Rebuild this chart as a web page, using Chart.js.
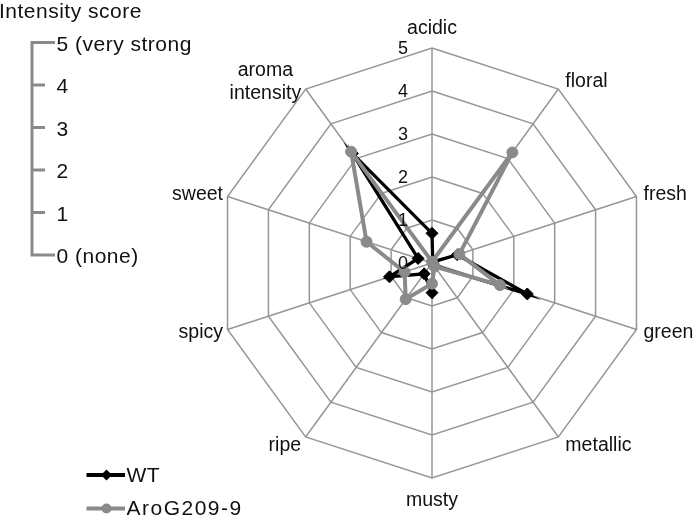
<!DOCTYPE html>
<html><head><meta charset="utf-8">
<script src="https://cdn.jsdelivr.net/npm/chart.js@4"></script>
<style>html,body{margin:0;padding:0;background:#fff;} canvas{display:block;}</style>
</head><body>
<canvas id="c" width="700" height="519"></canvas>
<script>
const categories = ['acidic','floral','fresh','green','metallic','musty','ripe','spicy','sweet',['aroma','intensity']];
const wtValues  = [0.69, 0.03, 0.62, 2.33, 0.08, 0.69, 0.31, 1.04, 0.34, 3.15];
const aroValues = [0.03, 3.18, 0.67, 1.66, 0.10, 0.48, 1.04, 0.67, 1.60, 3.20];
const seriesNames = ['WT', 'AroG209-9'];
const tickLabels = ['0','1','2','3','4','5'];
const scaleTitle = 'Intensity score';
const scaleLabels = ['5 (very strong','4','3','2','1','0 (none)'];

const FONT = '"Liberation Sans", Arial, sans-serif';
const TEXT = '#111111';
const GRID = '#969696';
const GRAY = '#8a8a8a';
const BLACK = '#000000';

const overlay = {
  id: 'overlay',
  afterDraw(chart) {
    const ctx = chart.ctx;
    const r = chart.scales.r;
    ctx.save();
    ctx.fillStyle = TEXT;
    // radial tick labels (left of the vertical axis)
    ctx.font = '18px ' + FONT;
    ctx.textAlign = 'center';
    ctx.textBaseline = 'middle';
    tickLabels.forEach(t => {
      const y = r.yCenter - r.getDistanceFromCenterForValue(parseFloat(t));
      ctx.fillText(t, r.xCenter - 29, y + 1);
    });
    // point labels
    ctx.font = '19.5px ' + FONT;
    ctx.textBaseline = 'alphabetic';
    const R = r.drawingArea;
    const lh = 23;
    categories.forEach((lab, i) => {
      const lines = Array.isArray(lab) ? lab : [lab];
      const p = r.getPointPosition(i, R);
      const a = r.getIndexAngle(i);
      const s = Math.sin(a), c = Math.cos(a);
      let x, align, base;
      if (Math.abs(s) < 0.01) {
        align = 'center'; x = p.x;
        base = c > 0 ? p.y - 14 - (lines.length - 1) * lh : p.y + 28;
      } else {
        base = p.y + 6 - 9.5 * c - (lines.length - 1) * lh / 2;
        if (s > 0) { align = 'left'; x = p.x + 7; } else { align = 'right'; x = p.x - 4.5; }
      }
      if (lines.length > 1) {
        const mw = Math.max(...lines.map(l => ctx.measureText(l).width));
        const cx = align === 'right' ? x - mw / 2 : (align === 'left' ? x + mw / 2 : x);
        ctx.textAlign = 'center';
        lines.forEach((l, k) => ctx.fillText(l, cx, base + k * lh));
      } else {
        ctx.textAlign = align;
        ctx.fillText(lines[0], x, base);
      }
    });

    // intensity scale key (top-left)
    ctx.textAlign = 'left';
    ctx.textBaseline = 'alphabetic';
    ctx.font = '21px ' + FONT;
    ctx.letterSpacing = '0.5px';
    ctx.fillText(scaleTitle, -1, 18);
    const top = 42.5, step = 42.5, bx = 32;
    ctx.strokeStyle = GRAY;
    ctx.lineWidth = 3;
    ctx.beginPath();
    ctx.moveTo(55, top); ctx.lineTo(bx, top);
    ctx.lineTo(bx, top + step * (scaleLabels.length - 1)); ctx.lineTo(55, top + step * (scaleLabels.length - 1));
    for (let k = 1; k < scaleLabels.length - 1; k++) {
      ctx.moveTo(bx, top + step * k); ctx.lineTo(45, top + step * k);
    }
    ctx.stroke();
    ctx.textBaseline = 'middle';
    scaleLabels.forEach((t, k) => ctx.fillText(t, 56.5, top + step * k + 2.5));

    // series legend (bottom-left)
    const ds = chart.data.datasets;
    const ly = [475, 508.5];
    ds.forEach((d, k) => {
      ctx.strokeStyle = d.borderColor;
      ctx.lineWidth = 4;
      ctx.beginPath(); ctx.moveTo(86.5, ly[k]); ctx.lineTo(125, ly[k]); ctx.stroke();
      ctx.fillStyle = d.pointBackgroundColor;
      ctx.beginPath();
      if (d.pointStyle === 'rectRot') {
        ctx.moveTo(106.5, ly[k] - 5.5); ctx.lineTo(112, ly[k]); ctx.lineTo(106.5, ly[k] + 5.5); ctx.lineTo(101, ly[k]); ctx.closePath();
      } else {
        ctx.arc(106.5, ly[k], 5, 0, Math.PI * 2);
      }
      ctx.fill();
      ctx.fillStyle = TEXT;
      ctx.textAlign = 'left';
      ctx.textBaseline = 'middle';
      ctx.letterSpacing = k === 1 ? '1.5px' : '0.5px';
      ctx.fillText(d.label, 126.5, ly[k] + 1);
    });
    ctx.restore();
  }
};

new Chart(document.getElementById('c'), {
  type: 'radar',
  data: {
    labels: categories,
    datasets: [
      { label: seriesNames[0], data: wtValues, borderColor: BLACK, backgroundColor: BLACK,
        borderWidth: 3.3, fill: false, pointStyle: 'rectRot', pointRadius: 6,
        pointBackgroundColor: BLACK, pointBorderColor: BLACK, pointBorderWidth: 1, order: 2, clip: false },
      { label: seriesNames[1], data: aroValues, borderColor: GRAY, backgroundColor: GRAY,
        borderWidth: 4, fill: false, pointStyle: 'circle', pointRadius: 5.5,
        pointBackgroundColor: GRAY, pointBorderColor: GRAY, pointBorderWidth: 1, order: 1, clip: false }
    ]
  },
  options: {
    responsive: false,
    animation: false,
    devicePixelRatio: 1,
    layout: { padding: 0 },
    elements: { line: { tension: 0 } },
    plugins: { legend: { display: false }, tooltip: { enabled: false } },
    scales: {
      r: {
        min: 0, max: 5,
        ticks: { display: false, stepSize: 1 },
        pointLabels: { display: false },
        grid: { color: GRID, lineWidth: 1.5 },
        angleLines: { color: GRID, lineWidth: 1.5 },
        afterFit(s) { s.xCenter = 432; s.yCenter = 263; s.drawingArea = 215; }
      }
    }
  },
  plugins: [overlay]
});
</script>
</body></html>
